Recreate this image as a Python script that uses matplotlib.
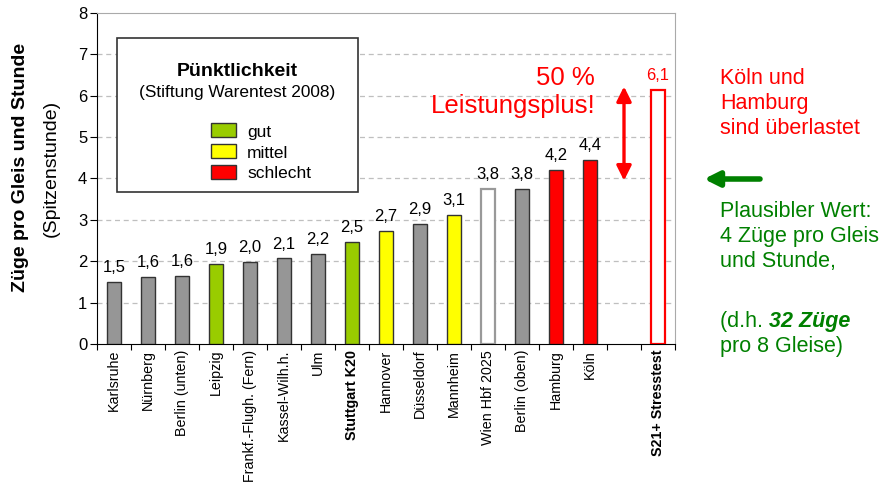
import matplotlib
matplotlib.use("Agg")
import matplotlib.pyplot as plt
from matplotlib.patches import Rectangle, FancyArrowPatch

plt.rcParams['font.family'] = ['Liberation Sans', 'DejaVu Sans']

categories = ["Karlsruhe", "Nürnberg", "Berlin (unten)", "Leipzig", "Frankf.-Flugh. (Fern)",
              "Kassel-Wilh.h.", "Ulm", "Stuttgart K20", "Hannover", "Düsseldorf", "Mannheim",
              "Wien Hbf 2025", "Berlin (oben)", "Hamburg", "Köln", "", "S21+ Stresstest"]
values = [1.50, 1.62, 1.64, 1.93, 1.98, 2.07, 2.18, 2.46, 2.74, 2.91, 3.13,
          3.75, 3.75, 4.20, 4.44, None, 6.14]
ratings = ["n", "n", "n", "gut", "n", "n", "n", "gut", "mittel", "n", "mittel",
           "open", "n", "schlecht", "schlecht", None, "stress"]
bold_labels = ["Stuttgart K20", "S21+ Stresstest"]

face = {"n": "#969696", "gut": "#99CC00", "mittel": "#FFFF00", "schlecht": "#FF0000",
        "open": "white", "stress": "white"}
edge = {"n": "#333333", "gut": "#333333", "mittel": "#333333", "schlecht": "#333333",
        "open": "#999999", "stress": "#FF0000"}

W, H = 881, 483
fig = plt.figure(figsize=(W / 100, H / 100), dpi=100)
ax = fig.add_axes([97 / W, 1 - 344.3 / H, (675 - 97) / W, (344.3 - 12.7) / H])

for i, (v, r) in enumerate(zip(values, ratings)):
    if v is None:
        continue
    lw = 1.6 if r in ("open", "stress") else 1.0
    ax.bar(i, v, width=0.44, color=face[r], edgecolor=edge[r], linewidth=lw, zorder=3)
    lab = f"{v:.1f}".replace(".", ",")
    col = "#FF0000" if r == "stress" else "black"
    ax.text(i, v + 0.24, lab, ha="center", va="baseline", fontsize=12, color=col, zorder=4)

ax.set_xlim(-0.5, len(categories) - 0.5)
ax.set_ylim(0, 8)
ax.set_yticks(range(0, 9))
ax.tick_params(axis="y", labelsize=12, length=5, direction="out", pad=2)
for y in range(1, 8):
    ax.axhline(y, color="#BFBFBF", linestyle=(0, (4, 3)), linewidth=0.9, zorder=1)

ax.set_xticks([i - 0.5 for i in range(len(categories) + 1)], minor=False)
ax.set_xticklabels([])
ax.tick_params(axis="x", which="major", length=4, direction="out")
ax.set_xticks(range(len(categories)), minor=True)
ax.set_xticklabels(categories, minor=True, rotation=90, fontsize=10.3, va="top")
ax.tick_params(axis="x", which="minor", length=0, pad=4)
for lbl in ax.get_xticklabels(minor=True):
    if lbl.get_text() in bold_labels:
        lbl.set_fontweight("bold")

for s in ("top", "right"):
    ax.spines[s].set_color("#AAAAAA")
for s in ("left", "bottom"):
    ax.spines[s].set_color("black")

# double arrow
ax.add_patch(FancyArrowPatch((15, 3.95), (15, 6.22), arrowstyle="<|-|>", mutation_scale=22,
                             color="#FF0000", linewidth=2.4, zorder=5, shrinkA=0, shrinkB=0))
ax.text(14.15, 6.26, "50 %", ha="right", va="baseline", fontsize=18.5, color="#FF0000")
ax.text(14.15, 5.58, "Leistungsplus!", ha="right", va="baseline", fontsize=18.5, color="#FF0000")

def fx(x):
    return x / W

def fy(y):
    return 1 - y / H

# y label
fig.text(fx(21), fy(167), "Züge pro Gleis und Stunde", rotation=90, ha="center", va="center",
         fontsize=14, fontweight="bold")
fig.text(fx(51), fy(168), "(Spitzenstunde)", rotation=90, ha="center", va="center", fontsize=14)

# legend box
fig.patches.append(Rectangle((fx(117), fy(192)), fx(358 - 117), (192 - 38) / H, transform=fig.transFigure,
                             facecolor="white", edgecolor="#333333", linewidth=1.2, zorder=10))
fig.text(fx(237), fy(71), "Pünktlichkeit", ha="center", va="center", fontsize=14, fontweight="bold", zorder=11)
fig.text(fx(237), fy(93), "(Stiftung Warentest 2008)", ha="center", va="center", fontsize=12.4, zorder=11)
leg_items = [("gut", "#99CC00", 130), ("mittel", "#FFFF00", 151), ("schlecht", "#FF0000", 172)]
for name, c, yc in leg_items:
    fig.patches.append(Rectangle((fx(211), fy(yc + 7)), fx(25), 14 / H, transform=fig.transFigure,
                                 facecolor=c, edgecolor="#333333", linewidth=1.0, zorder=11))
    fig.text(fx(247), fy(yc + 2), name, ha="left", va="center", fontsize=12.5, zorder=12)

# right annotations
red_lines = [("Köln und", 84), ("Hamburg", 109), ("sind überlastet", 134)]
for t, yb in red_lines:
    fig.text(fx(720), fy(yb), t, ha="left", va="baseline", fontsize=15.5, color="#FF0000")

fig.patches.append(FancyArrowPatch((fx(760), fy(179)), (fx(704), fy(179)), transform=fig.transFigure,
                                   arrowstyle="-|>", mutation_scale=22, color="#008000", linewidth=4,
                                   shrinkA=0, shrinkB=0))
green_lines = [("Plausibler Wert:", 217), ("4 Züge pro Gleis", 242), ("und Stunde,", 267),
               ("pro 8 Gleise)", 352)]
for t, yb in green_lines:
    fig.text(fx(720), fy(yb), t, ha="left", va="baseline", fontsize=15.5, color="#008000")
t1 = fig.text(fx(720), fy(327), "(d.h. ", ha="left", va="baseline", fontsize=15.5, color="#008000")
fig.canvas.draw()
bb = t1.get_window_extent()
fig.text(bb.x1 / W, fy(327), "32 Züge", ha="left", va="baseline", fontsize=15.5, color="#008000",
         fontweight="bold", fontstyle="italic")

fig.savefig("out.png", dpi=100)
